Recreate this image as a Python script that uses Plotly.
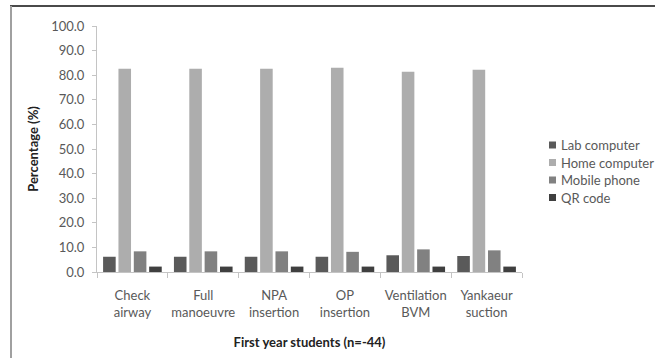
import plotly.graph_objects as go

# Survey data: first year students (n=44), percentage choosing each access mode per skill
categories = ["Check<br>airway", "Full<br>manoeuvre", "NPA<br>insertion",
              "OP<br>insertion", "Ventilation<br>BVM", "Yankaeur<br>suction"]
lab_computer = [6.2, 6.2, 6.2, 6.2, 6.8, 6.5]
home_computer = [82.6, 82.6, 82.6, 83.0, 81.4, 82.2]
mobile_phone = [8.4, 8.4, 8.4, 8.2, 9.2, 8.8]
qr_code = [2.2, 2.2, 2.2, 2.2, 2.2, 2.2]

series = [
    ("Lab computer", lab_computer, "#5a5a5a"),
    ("Home computer", home_computer, "#adadad"),
    ("Mobile phone", mobile_phone, "#818181"),
    ("QR code", qr_code, "#3f3f3f"),
]

W, H = 655, 358
L, R, T, B = 97, 522, 26, 272  # plot area edges in pixels


def px_x(px):
    return (px - L) / (R - L)


def px_y(py):
    return (B - py) / (B - T)


fig = go.Figure()
for name, vals, color in series:
    fig.add_trace(go.Bar(name=name, x=categories, y=vals, showlegend=False,
                         marker=dict(color=color, line=dict(width=0))))

font_family = "Lato, 'Open Sans', sans-serif"
axis_grey = "#c4c4c4"

# Compact key at the right: small square swatch followed by the series name
shapes = []
annotations = []
row_y0, row_step = 145, 17.5
for i, (name, _, color) in enumerate(series):
    cy = row_y0 + i * row_step
    shapes.append(dict(type="rect", xref="paper", yref="paper",
                       x0=px_x(549), x1=px_x(556),
                       y0=px_y(cy - 3.5), y1=px_y(cy + 3.5),
                       fillcolor=color, line=dict(width=0)))
    annotations.append(dict(text=name, xref="paper", yref="paper",
                            x=px_x(559), y=px_y(cy), xanchor="left",
                            yanchor="middle", showarrow=False,
                            font=dict(size=13, color="#595959")))

# chart frame: top and left edges
shapes += [
    dict(type="line", xref="paper", yref="paper",
         x0=px_x(10), x1=px_x(W + 5), y0=px_y(6), y1=px_y(6),
         line=dict(color="#4a4a4a", width=2)),
    dict(type="line", xref="paper", yref="paper",
         x0=px_x(11), x1=px_x(11), y0=px_y(6), y1=px_y(H + 5),
         line=dict(color="#a0a0a0", width=2)),
]

fig.update_layout(
    width=W, height=H,
    margin=dict(l=L, r=W - R, t=T, b=H - B, autoexpand=False),
    paper_bgcolor="white", plot_bgcolor="white",
    barmode="group", bargap=0.133, bargroupgap=0.18,
    font=dict(family=font_family, size=13, color="#595959"),
    showlegend=False,
    xaxis=dict(showline=True, linecolor=axis_grey, linewidth=1,
               ticks="outside", tickson="boundaries", ticklen=5,
               tickcolor=axis_grey, ticklabelstandoff=11, tickangle=0,
               automargin=False,
               tickfont=dict(size=13, color="#595959"),
               title=dict(text="<b>First year students (n=-44)</b>",
                          font=dict(size=13, color="#222222"), standoff=19)),
    yaxis=dict(range=[0, 100], dtick=10, tickformat=".1f",
               showline=True, linecolor=axis_grey, linewidth=1,
               ticks="outside", ticklen=4, tickcolor=axis_grey,
               ticklabelstandoff=5, showgrid=False, zeroline=False,
               automargin=False,
               tickfont=dict(size=13, color="#595959"),
               title=dict(text="<b>Percentage (%)</b>",
                          font=dict(size=13, color="#222222"), standoff=9)),
    shapes=shapes,
    annotations=annotations,
)

fig.write_html("out.html")
